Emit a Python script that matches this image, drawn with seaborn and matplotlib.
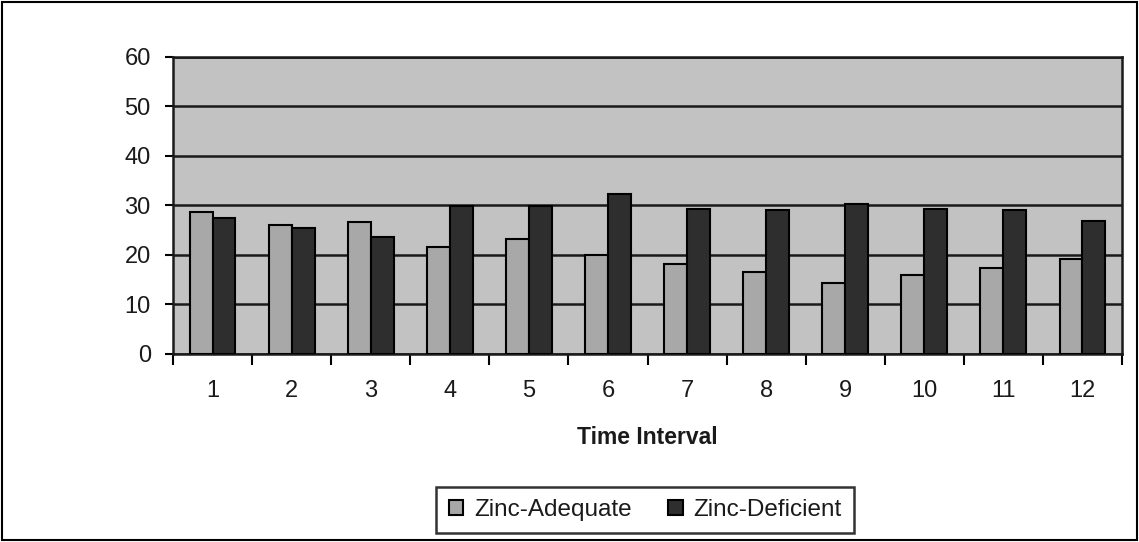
import matplotlib
matplotlib.use("Agg")
import matplotlib.pyplot as plt
import seaborn as sns
import pandas as pd
import numpy as np
from matplotlib.patches import Rectangle, Patch

intervals = ["1", "2", "3", "4", "5", "6", "7", "8", "9", "10", "11", "12"]
zinc_adequate = [28.6, 26.1, 26.6, 21.6, 23.2, 19.9, 18.1, 16.5, 14.4, 16.0, 17.3, 19.2]
zinc_deficient = [27.4, 25.5, 23.6, 29.8, 29.8, 32.3, 29.3, 29.1, 30.2, 29.2, 29.1, 26.9]
series_names = ["Zinc-Adequate", "Zinc-Deficient"]

df = pd.DataFrame({
    "Time Interval": intervals * 2,
    "Value": zinc_adequate + zinc_deficient,
    "Series": [series_names[0]] * len(intervals) + [series_names[1]] * len(intervals),
})

sns.set_theme(style="white")
plt.rcParams["font.family"] = ["Liberation Sans", "DejaVu Sans"]

fig = plt.figure(figsize=(11.39, 5.42), dpi=100)
ax = fig.add_axes([0.1519, 0.3469, 0.8332, 0.548])
ax.set_facecolor("#c2c2c2")

palette = {series_names[0]: "#a8a8a8", series_names[1]: "#2e2e2e"}
sns.barplot(data=df, x="Time Interval", y="Value", hue="Series", order=intervals,
            hue_order=series_names, palette=palette, width=0.58, gap=0,
            edgecolor="black", linewidth=1.5, saturation=1, ax=ax, legend=False, zorder=3)

ax.set_ylim(0, 60)
ax.set_xlim(-0.5, len(intervals) - 0.5)
ax.set_yticks(np.arange(0, 61, 10))
ax.yaxis.grid(True, color="#1a1a1a", linewidth=1.8, zorder=1)
ax.set_axisbelow(True)
ax.tick_params(axis="y", length=6, width=1.5, color="black", labelsize=17, pad=10,
               left=True, labelcolor="#1a1a1a")
ax.set_xticks(range(len(intervals)))
ax.set_xticklabels(intervals)
ax.tick_params(axis="x", length=0, labelsize=17, pad=19, labelcolor="#1a1a1a")
ax.set_xticks(np.arange(-0.5, len(intervals), 1.0), minor=True)
ax.tick_params(axis="x", which="minor", length=8, width=1.5, color="black", bottom=True)
for s in ax.spines.values():
    s.set_color("#1a1a1a")
    s.set_linewidth(1.8)

ax.set_ylabel("")
ax.set_xlabel("Time Interval", fontsize=16.5, fontweight="bold", labelpad=17, color="#1a1a1a")

handles = [Patch(facecolor=palette[n], edgecolor="black", linewidth=1.5, label=n) for n in series_names]
leg = fig.legend(handles=handles, loc="center", bbox_to_anchor=(0.5665, 0.0585), ncol=2,
                 fontsize=17.5, frameon=True, fancybox=False, edgecolor="black",
                 handlelength=0.6, handleheight=0.6, handletextpad=0.45, columnspacing=1.5,
                 borderpad=0.5, borderaxespad=0, labelcolor="#1a1a1a")
leg.get_frame().set_linewidth(1.8)

fig.patches.append(Rectangle((0.002, 0.004), 0.996, 0.992, transform=fig.transFigure,
                             fill=False, edgecolor="black", linewidth=1.5))

fig.savefig("out.png", dpi=100, facecolor="white")
